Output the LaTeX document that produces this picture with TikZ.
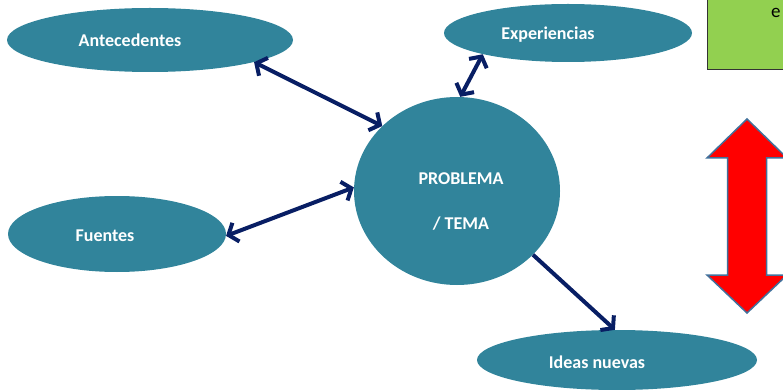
\documentclass[tikz,border=0pt]{standalone}
\usepackage{fontspec}
\setmainfont{Carlito}
\usetikzlibrary{shapes.geometric,arrows.meta}
\definecolor{teal}{RGB}{49,132,155}
\definecolor{navy}{RGB}{8,30,100}
\definecolor{boxgreen}{RGB}{146,208,80}
\definecolor{arrowedge}{RGB}{65,113,156}
\tikzset{
  bubble/.style={ellipse,fill=teal,draw=none,inner sep=0pt},
  lbl/.style={text=white,font=\fontsize{18}{20}\selectfont\bfseries,inner sep=0pt},
  link/.style={draw=navy,line width=4pt,{Straight Barb[length=8pt,width=20pt]}-{Straight Barb[length=8pt,width=20pt]}},
  onelink/.style={draw=navy,line width=4pt,-{Straight Barb[length=8pt,width=20pt]}},
}
\begin{document}
\begin{tikzpicture}[x=1pt,y=-1pt]
\useasboundingbox (0,0) rectangle (783,390);
\clip (0,0) rectangle (783,390);
% green box (cropped)
\node[draw=black!80,line width=0.8pt,fill=boxgreen,minimum width=100pt,minimum height=90pt,anchor=south west,inner sep=0pt] (gbox) at (707,70) {};
\node[anchor=west,font=\fontsize{19}{21}\selectfont,inner sep=0pt] (gtext) at (771,13) {e};
% red double arrow
\draw[fill=red,draw=arrowedge,line width=1.5pt] (747,119) -- (787,158) -- (766.5,158) -- (766.5,275) -- (787,275) -- (747,313) -- (707,275) -- (727.5,275) -- (727.5,158) -- (707,158) -- cycle;
% bubbles
\node[bubble,minimum width=286pt,minimum height=64pt] (ante) at (150,40) {};
\node[lbl] (anteT) at (130,40) {Antecedentes};
\node[bubble,minimum width=248pt,minimum height=58pt] (exp) at (568,33) {};
\node[lbl] (expT) at (548,35) {Experiencias};
\node[bubble,minimum width=218pt,minimum height=76pt] (fue) at (117,234) {};
\node[lbl] (fueT) at (105,236) {Fuentes};
\node[bubble,minimum width=206pt,minimum height=188pt] (prob) at (457,191) {};
\node[lbl] (probT1) at (461,179) {PROBLEMA};
\node[lbl] (probT2) at (461,224) {/ TEMA};
\node[bubble,minimum width=280pt,minimum height=60pt] (ideas) at (617,360) {};
\node[lbl] (ideasT) at (597,362) {Ideas nuevas};
% connectors
\draw[link] (ante.-12) -- (prob.139);
\draw[link] (exp.-166) -- (prob.88);
\draw[link] (fue.-1) -- (prob.178);
\draw[onelink] (prob.-40) -- (ideas.94);
\end{tikzpicture}
\end{document}
